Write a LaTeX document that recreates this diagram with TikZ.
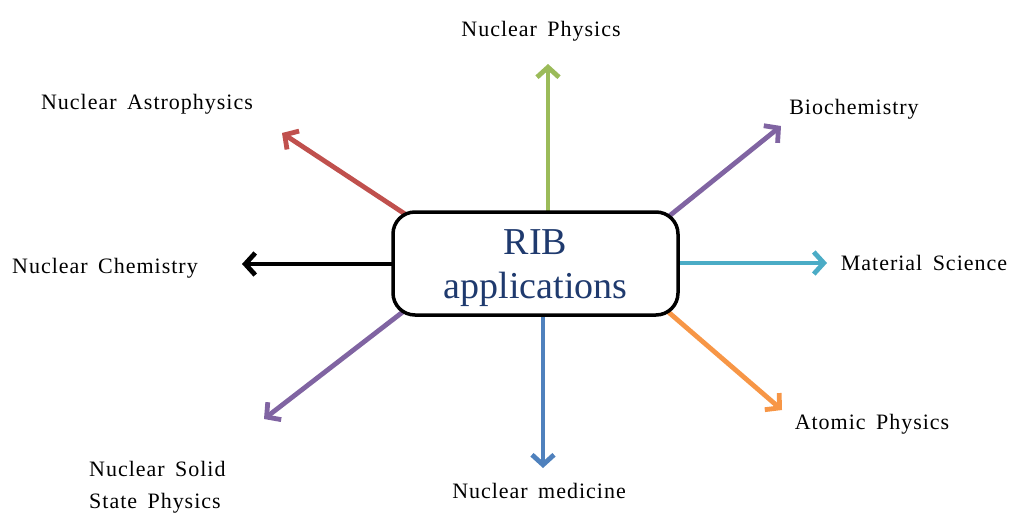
\documentclass[tikz,border=0pt]{standalone}
\usepackage{fontspec}
\setmainfont{Liberation Serif}
\newfontfamily\lblfont[LetterSpace=4.5,WordSpace=1.6]{Liberation Serif}
\usetikzlibrary{arrows.meta,backgrounds}
\definecolor{cgreen}{HTML}{9BBB59}
\definecolor{cred}{HTML}{C0504D}
\definecolor{cpurple}{HTML}{8064A2}
\definecolor{ccyan}{HTML}{4BACC6}
\definecolor{corange}{HTML}{F79646}
\definecolor{cblue}{HTML}{4F81BD}
\definecolor{cnavy}{HTML}{1F3A6E}
\tikzset{
  x=1pt,y=-1pt,
  conn/.style={line width=4.8pt,-{Straight Barb[length=10pt,width=22pt,line width=4.8pt]}},
  lbl/.style={font=\lblfont\fontsize{22}{32}\selectfont,inner sep=0pt},
  centerbox/.style={draw=black,line width=3.5pt,fill=white,rounded corners=22pt,minimum width=285pt,minimum height=103pt}
}
\begin{document}
\begin{tikzpicture}
\useasboundingbox (0,0) rectangle (1009,514);
\node[centerbox] (rib) at (535.5,263.5) {};
\node[font=\fontsize{38}{44}\selectfont,text=cnavy,align=center,inner sep=0pt] (ribtext) at (535.5,268) {RIB\\applications};
% start points on the box border
\coordinate (sN) at (548,212);
\coordinate (sNW) at (405,214);
\coordinate (sNE) at (668,217);
\coordinate (sW) at (393,264);
\coordinate (sE) at (678,263);
\coordinate (sSE) at (666,310);
\coordinate (sSW) at (404,311);
\coordinate (sS) at (543,315);
% tips
\coordinate (tN) at (548,64);
\coordinate (tNW) at (282,133);
\coordinate (tNE) at (781,126);
\coordinate (tW) at (242,264);
\coordinate (tE) at (827,263);
\coordinate (tSE) at (782,410);
\coordinate (tSW) at (264,419);
\coordinate (tS) at (543,468);
\begin{scope}[on background layer]
\draw[conn,cgreen] (sN) -- (tN);
\draw[conn,cred] (sNW) -- (tNW);
\draw[conn,cpurple] (sNE) -- (tNE);
\draw[conn,black] (sW) -- (tW);
\draw[conn,ccyan] (sE) -- (tE);
\draw[conn,corange] (sSE) -- (tSE);
\draw[conn,cpurple] (sSW) -- (tSW);
\draw[conn,cblue] (sS) -- (tS);
\end{scope}
\node[lbl] (lN) at (541,31) {Nuclear Physics};
\node[lbl] (lNW) at (147,104) {Nuclear Astrophysics};
\node[lbl] (lNE) at (854,109) {Biochemistry};
\node[lbl] (lW) at (105,268) {Nuclear Chemistry};
\node[lbl] (lE) at (924,263) {Material Science};
\node[lbl] (lSE) at (872,424) {Atomic Physics};
\node[lbl,anchor=west,align=left] (lSW) at (89,487) {Nuclear Solid\\State Physics};
\node[lbl] (lS) at (539,491) {Nuclear medicine};
\end{tikzpicture}
\end{document}
